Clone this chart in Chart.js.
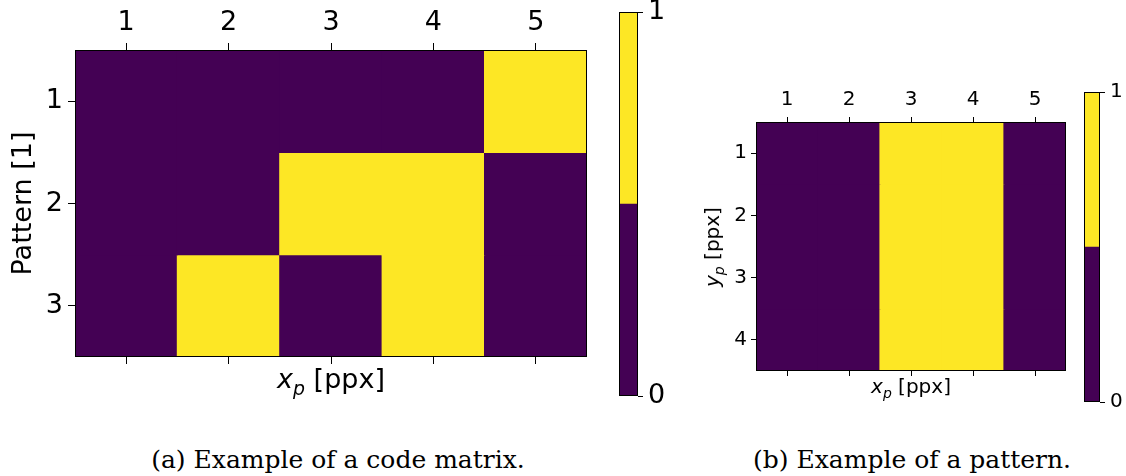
<!DOCTYPE html>
<html>
<head>
<meta charset="utf-8">
<script src="https://cdn.jsdelivr.net/npm/chart.js@4.4.1/dist/chart.umd.min.js"></script>
<style>
  body { margin: 0; width: 1126px; height: 476px; background: #fff; position: relative; overflow: hidden; font-family: "DejaVu Sans", sans-serif; }
  canvas { position: absolute; }
  .lbl { position: absolute; white-space: nowrap; color: #000; transform: translate(-50%, -50%); line-height: 1; }
  .lbl .sub { font-size: 0.7em; font-style: italic; position: relative; top: 0.35em; }
  .rot { transform: translate(-50%, -50%) rotate(-90deg); }
  .cap { position: absolute; white-space: nowrap; color: #000; transform: translate(-50%, -50%); font-family: "DejaVu Serif", serif; font-size: 25px; }
</style>
</head>
<body>
<canvas id="codeMap" width="600" height="410" style="left:0;top:0"></canvas>
<canvas id="codeBar" width="80" height="410" style="left:600px;top:0"></canvas>
<canvas id="patMap" width="390" height="350" style="left:690px;top:60px"></canvas>
<canvas id="patBar" width="56" height="330" style="left:1070px;top:80px"></canvas>

<div class="lbl" style="left:331px;top:378px;font-size:27px"><i>x</i><span class="sub">p</span> [ppx]</div>
<div class="lbl" style="left:911px;top:386px;font-size:20px"><i>x</i><span class="sub">p</span> [ppx]</div>
<div class="lbl rot" style="left:712px;top:247px;font-size:20px"><i>y</i><span class="sub">p</span> [ppx]</div>

<div class="cap" style="left:338px;top:459px">(a) Example of a code matrix.</div>
<div class="cap" style="left:912px;top:459px">(b) Example of a pattern.</div>

<script>
// data
const codeCols = ['1', '2', '3', '4', '5'];
const codeRows = [1, 2, 3];
const codeMatrix = [
  [0, 0, 0, 0, 1],
  [0, 0, 1, 1, 0],
  [0, 1, 0, 1, 0]
];
const patCols = ['1', '2', '3', '4', '5'];
const patRows = [1, 2, 3, 4];
const patMatrix = [
  [0, 0, 1, 1, 0],
  [0, 0, 1, 1, 0],
  [0, 0, 1, 1, 0],
  [0, 0, 1, 1, 0]
];
const cbLevels = [[0, 0.5], [0.5, 1]];
const cbTicks = [0, 1];
const cmap = ['#440154', '#fde725'];

Chart.defaults.font.family = '"DejaVu Sans", sans-serif';
Chart.defaults.color = '#000';

// black box round the plot area
const frame = {
  id: 'frame',
  afterDatasetsDraw(chart) {
    const a = chart.chartArea, ctx = chart.ctx;
    ctx.save();
    ctx.strokeStyle = '#000';
    ctx.lineWidth = 1;
    ctx.strokeRect(Math.round(a.left) + 0.5, Math.round(a.top) + 0.5, Math.round(a.right - a.left) - 1, Math.round(a.bottom - a.top) - 1);
    ctx.restore();
  }
};

function tickGrid(len) {
  return { offset: false, drawOnChartArea: false, drawTicks: true, tickLength: len, color: '#000', lineWidth: 1 };
}

function heatmap(id, cols, rows, matrix, g) {
  const datasets = rows.map((r, i) => ({
    data: cols.map(() => [r - 0.5, r + 0.5]),
    backgroundColor: matrix[i].map(v => cmap[v]),
    grouped: false,
    barPercentage: 1,
    categoryPercentage: 1,
    borderWidth: 0,
    inflateAmount: 0.6
  }));
  new Chart(document.getElementById(id), {
    type: 'bar',
    data: { labels: cols, datasets: datasets },
    options: {
      responsive: false,
      animation: false,
      layout: { padding: { right: g.right } },
      plugins: { legend: { display: false }, tooltip: { enabled: false } },
      scales: {
        x: {
          position: 'top', offset: true,
          grid: tickGrid(g.tick), border: { display: false },
          ticks: { font: { size: g.font }, padding: g.padX, maxRotation: 0 },
          afterFit: s => { s.height = g.top; }
        },
        x2: {
          type: 'category', position: 'bottom', offset: true,
          grid: tickGrid(g.tick), border: { display: false },
          ticks: { display: false },
          afterFit: s => { s.height = g.bottom; }
        },
        y: {
          type: 'linear', reverse: true,
          min: rows[0] - 0.5, max: rows[rows.length - 1] + 0.5,
          afterBuildTicks: s => { s.ticks = rows.map(v => ({ value: v })); },
          grid: tickGrid(g.tick), border: { display: false },
          ticks: { font: { size: g.font }, padding: g.padY },
          title: g.ytitle ? { display: true, text: g.ytitle, font: { size: g.font }, padding: { top: 8, bottom: 0 } } : { display: false },
          afterFit: s => { s.width = g.left; s.paddingTop = 0; s.paddingBottom = 0; }
        }
      }
    },
    plugins: [frame]
  });
}

function colorbar(id, g) {
  new Chart(document.getElementById(id), {
    type: 'bar',
    data: {
      labels: ['v'],
      datasets: cbLevels.map((lv, i) => ({
        data: [lv], backgroundColor: cmap[i], grouped: false,
        barPercentage: 1, categoryPercentage: 1, borderWidth: 0
      }))
    },
    options: {
      responsive: false,
      animation: false,
      layout: { padding: { left: g.left, top: g.top, bottom: g.bottom } },
      plugins: { legend: { display: false }, tooltip: { enabled: false } },
      scales: {
        x: { display: false, offset: true },
        y: {
          position: 'right', min: 0, max: 1,
          afterBuildTicks: s => { s.ticks = cbTicks.map(v => ({ value: v })); },
          grid: tickGrid(5), border: { display: false },
          ticks: { font: { size: g.font }, padding: g.pad },
          afterFit: s => { s.width = g.axis; s.paddingTop = 0; s.paddingBottom = 0; }
        }
      }
    },
    plugins: [frame]
  });
}

heatmap('codeMap', codeCols, codeRows, codeMatrix,
  { left: 75, top: 50, bottom: 53, right: 13, font: 27, tick: 7, padX: 4, padY: 5, ytitle: 'Pattern [1]' });
colorbar('codeBar', { left: 19, top: 12, bottom: 14, axis: 42, font: 27, pad: 5 });
heatmap('patMap', patCols, patRows, patMatrix,
  { left: 66, top: 62, bottom: 39, right: 14, font: 20, tick: 5, padX: 5, padY: 4 });
colorbar('patBar', { left: 14, top: 12, bottom: 8, axis: 26, font: 20, pad: 5 });
</script>
</body>
</html>
